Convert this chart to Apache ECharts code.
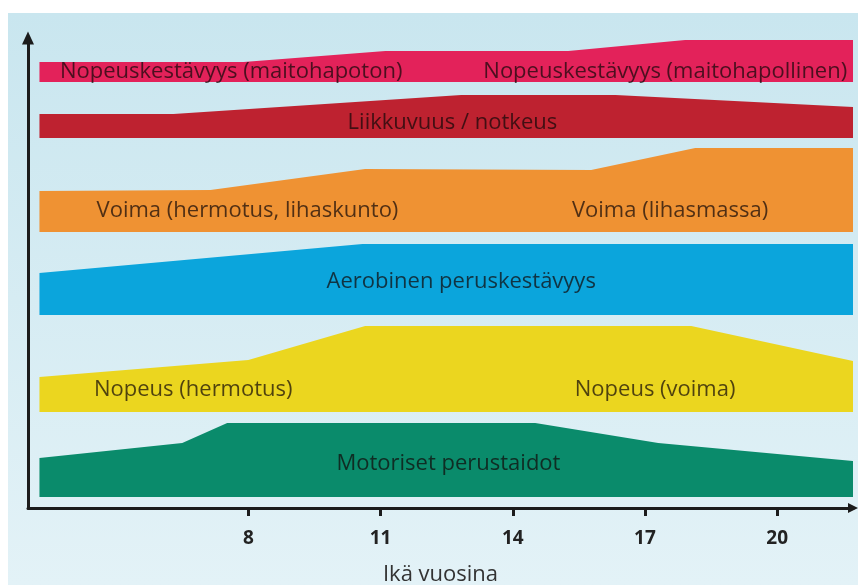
<!DOCTYPE html>
<html>
<head>
<meta charset="utf-8">
<script src="https://cdn.jsdelivr.net/npm/echarts@6/dist/echarts.min.js"></script>
<style>
  html, body { margin: 0; padding: 0; background: #fff; }
  #chart { width: 858px; height: 585px; }
</style>
</head>
<body>
<div id="chart"></div>
<script>
// ages (x) and band levels (y, arbitrary units)
const motorAges = [3.26, 6.5, 7.52, 14.51, 17.3, 21.72]
const motorTops = [12.5, 16.25, 21.25, 21.25, 16.25, 11.75]
const motorBase = 2.75

const speedAges = [3.26, 8.0, 10.65, 18.05, 21.72]
const speedTops = [32.75, 37, 45.5, 45.5, 36.75]
const speedBase = 24

const aerobicAges = [3.26, 10.59, 21.72]
const aerobicTops = [58.75, 66, 66]
const aerobicBase = 48.25

const strengthAges = [3.26, 7.14, 10.65, 15.78, 18.14, 21.72]
const strengthTops = [79.25, 79.5, 84.75, 84.5, 90, 90]
const strengthBase = 69

const mobilityAges = [3.26, 6.3, 12.83, 16.33, 21.72]
const mobilityTops = [98.5, 98.5, 103.25, 103.25, 100.25]
const mobilityBase = 92.5

const enduranceAges = [3.26, 7.89, 11.11, 15.26, 17.91, 21.72]
const enduranceTops = [111.5, 111.5, 114.25, 114.25, 117, 117]
const enduranceBase = 106.5

const tickAges = [8, 11, 14, 17, 20]

const labelTexts = [
  'Nopeuskestävyys (maitohapoton)',
  'Nopeuskestävyys (maitohapollinen)',
  'Liikkuvuus / notkeus',
  'Voima (hermotus, lihaskunto)',
  'Voima (lihasmassa)',
  'Aerobinen peruskestävyys',
  'Nopeus (hermotus)',
  'Nopeus (voima)',
  'Motoriset perustaidot',
]
const labelAges = [7.61, 17.46, 12.63, 7.98, 17.57, 12.83, 6.75, 17.23, 12.54]
const labelLevels = [109, 109, 96.25, 74.25, 74.25, 56.5, 29.5, 29.5, 11]

const bands = [
  { ages: motorAges, tops: motorTops, base: motorBase, color: '#0a8b6b' },
  { ages: speedAges, tops: speedTops, base: speedBase, color: '#ebd61f' },
  { ages: aerobicAges, tops: aerobicTops, base: aerobicBase, color: '#0ba5dc' },
  { ages: strengthAges, tops: strengthTops, base: strengthBase, color: '#ef9233' },
  { ages: mobilityAges, tops: mobilityTops, base: mobilityBase, color: '#be2230' },
  { ages: enduranceAges, tops: enduranceTops, base: enduranceBase, color: '#e3225a' },
]

const bandSeries = bands.map((b) => ({
  type: 'line',
  silent: true,
  showSymbol: false,
  lineStyle: { width: 0 },
  areaStyle: { color: b.color, opacity: 1, origin: b.base },
  data: b.ages.map((a, i) => [a, b.tops[i]]),
  z: 2,
}))

const labelSeries = {
  type: 'scatter',
  silent: true,
  symbolSize: 0,
  z: 5,
  label: {
    show: true,
    position: 'inside',
    formatter: (p) => p.name,
    fontFamily: 'Open Sans',
    fontSize: 22,
    color: 'rgba(18, 8, 8, 0.9)',
  },
  data: labelTexts.map((t, i) => ({ name: t, value: [labelAges[i], labelLevels[i]] })),
}

const chart = echarts.init(document.getElementById('chart'))
chart.setOption({
  animation: false,
  graphic: [
    {
      type: 'rect',
      z: -100,
      silent: true,
      shape: { x: 8, y: 13, width: 850, height: 572 },
      style: {
        fill: {
          type: 'linear', x: 0, y: 0, x2: 0, y2: 1,
          colorStops: [
            { offset: 0, color: '#c9e6ef' },
            { offset: 1, color: '#e3f2f7' },
          ],
        },
      },
    },
  ],
  grid: { left: 28, right: 5, top: 38, bottom: 77, outerBoundsMode: 'none' },
  xAxis: {
    type: 'value',
    min: 3,
    max: 21.72,
    name: 'Ikä vuosina',
    nameLocation: 'middle',
    nameGap: 56,
    nameMoveOverlap: false,
    nameTextStyle: { fontFamily: 'Open Sans', fontSize: 22, color: '#333', lineHeight: 22 },
    splitLine: { show: false },
    axisLine: {
      onZero: false,
      symbol: ['none', 'triangle'],
      symbolSize: [10, 10],
      lineStyle: { color: '#1c1c1c', width: 3 },
    },
    axisTick: {
      show: true,
      customValues: tickAges,
      length: 8,
      lineStyle: { color: '#1c1c1c', width: 3 },
    },
    axisLabel: {
      customValues: tickAges,
      margin: 21,
      fontFamily: 'Open Sans',
      fontWeight: 'bold',
      fontSize: 19,
      color: '#222',
    },
  },
  yAxis: {
    type: 'value',
    min: 0,
    max: 117.5,
    splitLine: { show: false },
    axisLabel: { show: false },
    axisTick: { show: false },
    axisLine: {
      show: true,
      symbol: ['none', 'triangle'],
      symbolSize: [12, 13],
      lineStyle: { color: '#1c1c1c', width: 3 },
    },
  },
  series: [...bandSeries, labelSeries],
})
</script>
</body>
</html>
